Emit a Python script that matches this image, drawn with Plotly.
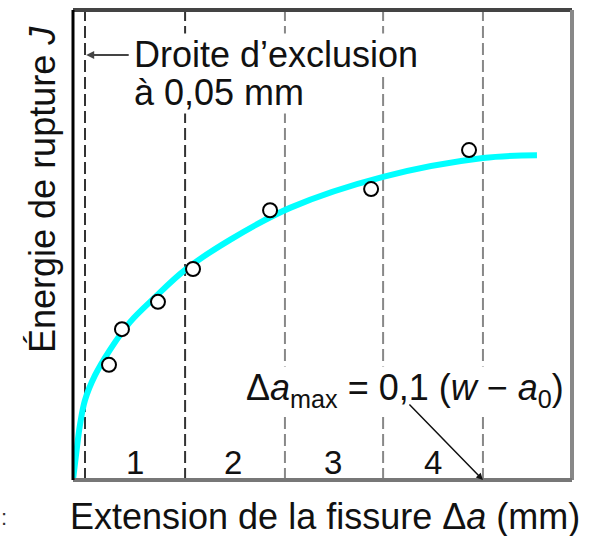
import plotly.graph_objects as go

# Data (x: crack extension in mm, y: J in arbitrary units)
pts_x = [0.15, 0.204, 0.354, 0.50, 0.821, 1.242, 1.65]
pts_y = [24.5, 32.1, 37.9, 44.9, 57.4, 61.9, 70.2]

curve_x = [0.0, 0.0125, 0.029, 0.05, 0.092, 0.154, 0.2375, 0.342, 0.467, 0.654, 0.904, 1.292, 1.708, 1.933]
curve_y = [0.0, 5.3, 11.7, 17.0, 22.3, 27.7, 33.6, 38.9, 44.7, 51.1, 57.9, 64.5, 68.5, 69.1]

exclusion_x = 0.05
boundaries = [0.467, 0.883, 1.292, 1.708]
boundary_colors = ["#333333", "#888888", "#888888", "#888888"]
region_labels = ["1", "2", "3", "4"]
region_x = [0.258, 0.667, 1.083, 1.50]

X_MAX = 2.079
Y_MAX = 100

FONT = "Liberation Sans, Arial, sans-serif"
fs = 36

fig = go.Figure()

# dashed vertical lines
fig.add_shape(type="line", x0=exclusion_x, x1=exclusion_x, y0=0, y1=1, xref="x", yref="paper",
              line=dict(color="#333333", width=2, dash="12px,5px"), layer="below")
for bx, c in zip(boundaries, boundary_colors):
    fig.add_shape(type="line", x0=bx, x1=bx, y0=0, y1=1, xref="x", yref="paper",
                  line=dict(color=c, width=2, dash="12px,5px"), layer="below")

fig.add_trace(go.Scatter(x=curve_x, y=curve_y, mode="lines",
                         line=dict(color="#00FFFF", width=6, shape="spline", smoothing=1.0),
                         hoverinfo="skip", showlegend=False))
fig.add_trace(go.Scatter(x=pts_x, y=pts_y, mode="markers",
                         marker=dict(symbol="circle", size=14, color="white",
                                     line=dict(color="black", width=2)),
                         showlegend=False))

# borders
fig.add_shape(type="line", x0=0, x1=1, y0=1, y1=1, xref="paper", yref="paper",
              line=dict(color="#444444", width=4))
fig.add_shape(type="line", x0=1, x1=1, y0=0, y1=1, xref="paper", yref="paper",
              line=dict(color="#888888", width=4))
fig.add_shape(type="line", x0=0, x1=1, y0=0, y1=0, xref="paper", yref="paper",
              line=dict(color="#777777", width=4))
fig.add_shape(type="line", x0=0, x1=0, y0=0, y1=1, xref="paper", yref="paper",
              line=dict(color="black", width=3))

def py(p):
    return (480 - p) / 470.0

def px(p):
    return (p - 73) / 499.0

ann = []
for lab, rx in zip(region_labels, region_x):
    ann.append(dict(x=rx, y=py(462), xref="x", yref="paper", text=lab, showarrow=False,
                    font=dict(size=33, color="#111111", family=FONT), yanchor="middle"))

ann.append(dict(x=px(133), y=py(55), xref="paper", yref="paper", text="Droite d’exclusion",
                showarrow=False, xanchor="left", yanchor="middle", bgcolor="white", borderpad=0,
                font=dict(size=fs, color="#111111", family=FONT)))
ann.append(dict(x=px(133), y=py(93), xref="paper", yref="paper", text="à 0,05 mm",
                showarrow=False, xanchor="left", yanchor="middle", bgcolor="white", borderpad=0,
                font=dict(size=fs, color="#111111", family=FONT)))
# arrow to exclusion line
ann.append(dict(x=exclusion_x + 0.005, y=py(55), xref="x", yref="paper", text="",
                showarrow=True, ax=44, ay=0, arrowhead=2, arrowsize=0.8, arrowwidth=2,
                arrowcolor="#444444"))

ann.append(dict(x=px(565), y=py(390), xref="paper", yref="paper",
                text="Δ<i>a</i><sub>max</sub> = 0,1 (<i>w</i> − <i>a</i><sub>0</sub>)",
                showarrow=False, xanchor="right", yanchor="middle", bgcolor="white", borderpad=0,
                font=dict(size=fs, color="#111111", family=FONT)))
ann.append(dict(x=boundaries[-1], y=0, xref="x", yref="y", text="",
                showarrow=True, ax=-75, ay=-77, arrowhead=2, arrowsize=0.9, arrowwidth=1.5,
                arrowcolor="#111111"))

ann.append(dict(x=px(325), y=py(516), xref="paper", yref="paper",
                text="Extension de la fissure Δ<i>a</i> (mm)", showarrow=False,
                xanchor="center", yanchor="middle", font=dict(size=fs, color="#111111", family=FONT)))
ann.append(dict(x=px(42), y=py(190), xref="paper", yref="paper",
                text="Énergie de rupture <i>J</i>", showarrow=False, textangle=-90,
                xanchor="center", yanchor="middle", font=dict(size=fs, color="#111111", family=FONT)))
ann.append(dict(x=px(4), y=py(517), xref="paper", yref="paper", text=":", showarrow=False,
                xanchor="center", yanchor="middle", font=dict(size=22, color="#333333", family=FONT)))

fig.update_layout(
    width=592, height=536,
    margin=dict(l=73, r=20, t=10, b=56),
    paper_bgcolor="white", plot_bgcolor="white",
    xaxis=dict(range=[0, X_MAX], showticklabels=False, showgrid=False, zeroline=False,
               showline=False, ticks=""),
    yaxis=dict(range=[0, Y_MAX], showticklabels=False, showgrid=False, zeroline=False,
               showline=False, ticks=""),
    annotations=ann,
    showlegend=False,
)

fig.write_html("out.html", config={"displayModeBar": False},
               post_script="document.body.style.margin='0';document.body.style.padding='0';")
